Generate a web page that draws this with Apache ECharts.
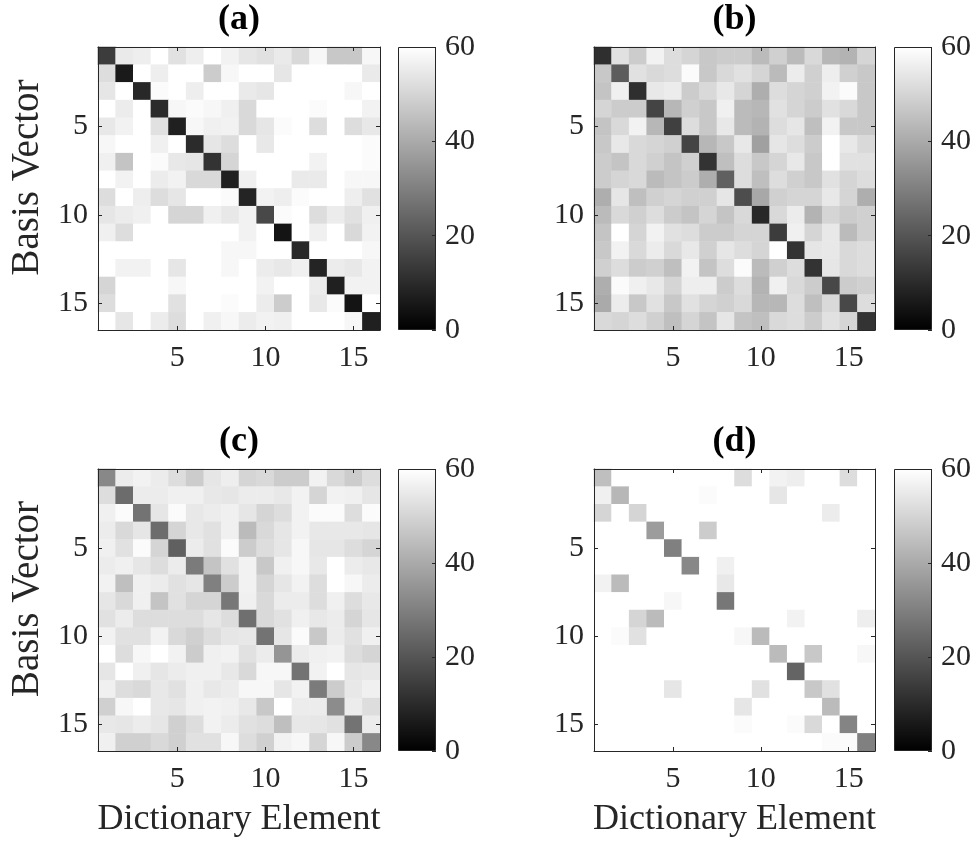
<!DOCTYPE html>
<html>
<head>
<meta charset="utf-8">
<title>Basis vector / dictionary element similarity</title>
<script src="https://cdn.jsdelivr.net/npm/echarts@6/dist/echarts.min.js"></script>
<style>
  html, body { margin: 0; padding: 0; background: #ffffff; }
  #chart { width: 979px; height: 845px; }
</style>
</head>
<body>
<div id="chart"></div>
<script>
// Axis categories (1..16) and the tick labels shown on them
const elementLabels = ['1','2','3','4','5','6','7','8','9','10','11','12','13','14','15','16'];
const tickLabels = ['5', '10', '15'];
const colorTicks = [0, 20, 40, 60];
const colorRange = [0, 60];
const panelTitles = ['(a)', '(b)', '(c)', '(d)'];

// Angle matrices: rows = basis vector, columns = dictionary element
const panelA = [
  [14,55,56,60,53,56,60,57,54,53,55,51,58,47,47,58],
  [52,6,60,56,60,60,48,58,60,60,54,60,60,60,60,55],
  [54,60,9.4,59,60,56,60,60,55,54,60,60,60,60,58,60],
  [60,55.5,60,10,58,59,58,56.5,51,60,60,60,59,60,60,57],
  [54.6,57,60,53,7.5,58,56.5,57,51,54,59,60,52,60,52,54.6],
  [58,60,60,56.5,60,10,54,52,60,54.6,60,60,60,60,60,59],
  [56.5,46,60,59,54.6,54,12,50,60,60,60,60,57,60,60,59],
  [60,57,60,55.5,57,51,51,7.5,56.5,60,60,55,55,60,58,58],
  [52,60,56,52,54,60,60,59,8.5,57,56,59,60,60,56,53],
  [54,55.5,56.5,60,50,50,56.5,54.6,57,17,59,60,52,55.5,53,56.5],
  [56.5,52,60,60,60,60,60,60,57,60,4.7,60,56.5,60,51,57],
  [60,60,60,60,60,60,60,58,58,60,60,9.4,60,60,60,58],
  [60,57,57,60,54,60,60,58,60,55.5,54.6,56.5,8.5,55.5,54.6,57],
  [50,60,60,60,58,60,60,60,60,57,60,60,55.5,7.5,57,57],
  [52,60,60,60,53,60,60,59,60,55.5,48,60,54.6,59,4.7,60],
  [60,54,60,55.5,52,60,56.5,58,55.5,57,56.5,60,60,60,58,7.5]
];

const panelB = [
  [11,53,48,57,52,50,47,48,48,44,49,44,51,43,42,50],
  [47,21.6,53,51,52,59,47,51,53,50,44,55.5,49,56,49,47],
  [46,56.5,11,54.6,55.5,48,51,54.6,50,41,52,50,49,57,59,47],
  [50,48,48,16,43,49,47,56.5,44,43,53,50,48,53,51,47],
  [46,51,57,43,15,52,47,54.6,44,42,52,54,45,57,47,47],
  [47,54.6,51,50,49,16,43,47,54.6,37.6,54,52,48,60,54.6,51],
  [48,46,51,49,46,49,12,45,52,47,50,54.6,47,60,53,53],
  [48,50,51,44,46,48,41,22.6,52,45,52,49,47,53,50,52],
  [41,54,45,49,50,49,49,54,18,39.5,49,50,50,54.6,50,41],
  [44,51,49,52,48,46,50,46,51,9.4,51,55.5,42,50,48,49],
  [46,60,50,57,53,52,48,48,50,50,14,56.5,50,54.6,44,49],
  [47,57,51,55.5,51,54.6,49,54,52,50,60,12,54,54.6,51,52],
  [49,52,48,49,45,57,46,52,59,44,49,52,12,54,51,52],
  [41,59,56.5,54.6,50,56,56,48,52,42,56.5,51,48,17,48,49],
  [40,55.5,47,53,47,53,50,49,51,43,43,52,45,51,17,52],
  [51,50,52,49,45,50,46,54,46,45,51,52,48,53,50,12]
];

const panelC = [
  [32,55.5,57,55.5,52,48,54,56,50,51,48,48,57,51,48,52],
  [52,25.4,55.5,55.5,56.5,56.5,54.6,54,55.5,55.5,54.6,57,50,57,56.5,54],
  [56.5,59,27,54,59,54.6,55.5,56.5,54,50,52,57,59,59,52,59],
  [55.5,51,54,25.4,50,54.6,53,56.5,44,51,54,57,54.6,54.6,54.6,54],
  [56.5,53,59,50,22.6,55.5,53,59,48,52,54,58,54,54,52,50],
  [55.5,56.5,54,52,55.5,29,46,53,57,47,56.5,58,54.6,60,55.5,54.6],
  [57,45,56.5,55.5,53,54,30,48,57,50,54,57,52,60,58,55.5],
  [54,51,56.5,46,53,50,50,28,56.5,51,55.5,55.5,52,56.5,52,54.6],
  [53,55.5,52,52,52,52,54,52,26,51,53,56.5,54.6,55.5,50,54],
  [57,53,53,57,51,49,52,54,54.6,27,54,59,47,55.5,53,56.5],
  [60,52,58,60,57,48,56.5,57,53,55.5,35,55.5,56.5,57,52,50],
  [54,60,56.5,54,55.5,56.5,56.5,54.6,51,58,58,27,57,60,54,54.6],
  [56.5,52,51,54.6,53,56.5,54.6,55.5,58,58,54,57,29,48,54.6,56.5],
  [49,58,60,54.6,54,56.5,57,56.5,54.6,47,60,55.5,55.5,33,55.5,52],
  [54.6,54,55.5,54,49,52,57,55.5,53,52,45,54.6,54,53,27,55.5],
  [56.5,49,49,51,49,53,53,58,52,49,57,58,50,58,48,32]
];

const panelD = [
  [45,60,60,60,60,60,60,60,52,60,57,56,60,60,52,60],
  [56.5,43,60,60,60,60,59,60,60,60,54,60,60,60,60,60],
  [50,60,50,60,60,60,60,60,60,60,60,60,60,55.5,60,60],
  [60,60,60,36.7,60,60,48,60,60,60,60,60,60,60,60,60],
  [60,60,60,60,30,60,60,60,60,60,60,60,60,60,60,60],
  [60,60,60,60,60,32,60,56.5,60,60,60,60,60,60,60,60],
  [57,44,60,60,60,60,60,54.6,60,60,60,60,60,60,60,60],
  [60,60,60,60,58,60,60,28,60,60,60,60,60,60,60,60],
  [60,60,50,44,60,60,60,60,60,60,60,57,60,60,60,56],
  [60,59,53,60,60,60,60,60,58,44,60,60,60,60,60,60],
  [60,60,60,60,60,60,60,60,60,60,44,60,47,60,60,58],
  [60,60,60,60,60,60,60,60,60,60,60,23.5,60,60,60,60],
  [60,60,60,60,54,60,60,60,60,53,60,60,47,53,60,60],
  [60,60,60,60,60,60,60,60,54,60,60,60,60,44,60,60],
  [60,60,60,60,60,60,60,60,59,60,60,59,51,60,31,60],
  [60,60,60,60,60,60,60,60,60,60,60,60,60,59,59,30]
];

const panels = [panelA, panelB, panelC, panelD];

// ---- layout ----
const FONT = '"Liberation Serif", "Times New Roman", serif';
const INK = '#262626';
const heatGrids = [
  { left: 98,  top: 47,  width: 282, height: 283 },
  { left: 594, top: 47,  width: 281, height: 283 },
  { left: 98,  top: 469, width: 282, height: 282 },
  { left: 594, top: 469, width: 281, height: 282 }
];
const barGrids = heatGrids.map(g => ({ left: g.left + 300, top: g.top, width: 38, height: g.height }));

const tickIdx = tickLabels.map(t => elementLabels.indexOf(t));
const onTick = (i) => tickIdx.indexOf(i) >= 0;

function catAxis(gridIndex, position, opts) {
  const isX = position === 'bottom' || position === 'top';
  return Object.assign({
    type: 'category',
    gridIndex: gridIndex,
    position: position,
    data: elementLabels,
    boundaryGap: true,
    inverse: !isX,
    z: 6,
    axisLine: { show: true, onZero: false, lineStyle: { color: INK, width: 1 } },
    axisTick: { show: true, inside: true, length: 4, alignWithLabel: true, interval: onTick,
                lineStyle: { color: INK, width: 1 } },
    axisLabel: { show: false },
    splitLine: { show: false },
    splitArea: { show: false }
  }, opts || {});
}

const xAxes = [], yAxes = [], series = [];
const grids = [];

heatGrids.forEach((g) => {
  grids.push(Object.assign({ containLabel: false }, g));
});
barGrids.forEach((g) => {
  grids.push(Object.assign({ containLabel: false }, g));
});

heatGrids.forEach((g, p) => {
  const isBottomRow = p >= 2;
  const labelStyle = { show: true, interval: onTick, fontFamily: FONT, fontSize: 30, color: INK };
  // bottom x axis with tick labels (and xlabel on lower row)
  xAxes.push(catAxis(p, 'bottom', {
    axisLabel: Object.assign({ margin: 13 }, labelStyle),
    name: isBottomRow ? 'Dictionary Element' : '',
    nameLocation: 'middle',
    nameGap: 51,
    nameTextStyle: { fontFamily: FONT, fontSize: 36, color: INK }
  }));
  // top x axis carries the panel title
  xAxes.push(catAxis(p, 'top', {
    name: panelTitles[p],
    nameLocation: 'middle',
    nameGap: 9,
    nameTextStyle: { fontFamily: FONT, fontSize: 36, fontWeight: 'bold', color: '#000' }
  }));
  yAxes.push(catAxis(p, 'left', {
    axisLabel: Object.assign({ margin: 10 }, labelStyle)
  }));
  yAxes.push(catAxis(p, 'right', {}));

  const data = [];
  panels[p].forEach((row, r) => {
    row.forEach((v, c) => data.push([c, r, v]));
  });
  series.push({
    type: 'heatmap',
    xAxisIndex: 2 * p,
    yAxisIndex: 2 * p,
    data: data,
    itemStyle: { borderWidth: 0 },
    emphasis: { disabled: true },
    progressive: 0,
    animation: false
  });
});

// colour bars
barGrids.forEach((g, k) => {
  const gi = heatGrids.length + k;
  xAxes.push({ type: 'category', gridIndex: gi, data: ['scale'], show: false, boundaryGap: true });
  yAxes.push({
    type: 'value', gridIndex: gi, position: 'right',
    min: colorRange[0], max: colorRange[1], interval: 20,
    z: 6,
    axisLine: { show: false },
    axisTick: { show: true, inside: true, length: 4, lineStyle: { color: INK } },
    axisLabel: { show: true, margin: 9, fontFamily: FONT, fontSize: 30, color: INK,
                 formatter: (v) => colorTicks.indexOf(v) >= 0 ? String(v) : '' },
    splitLine: { show: false }
  });
  series.push({
    type: 'bar',
    xAxisIndex: xAxes.length - 1,
    yAxisIndex: yAxes.length - 1,
    data: [colorRange[1]],
    barWidth: '100%',
    silent: true,
    animation: false,
    itemStyle: {
      borderColor: INK,
      borderWidth: 1,
      color: new echarts.graphic.LinearGradient(0, 0, 0, 1, [
        { offset: 0, color: '#ffffff' },
        { offset: 1, color: '#000000' }
      ])
    }
  });
});

const chart = echarts.init(document.getElementById('chart'), null, { renderer: 'canvas' });
chart.setOption({
  backgroundColor: '#ffffff',
  animation: false,
  grid: grids,
  xAxis: xAxes,
  yAxis: yAxes,
  visualMap: {
    type: 'continuous',
    show: false,
    min: colorRange[0],
    max: colorRange[1],
    seriesIndex: [0, 1, 2, 3],
    inRange: { color: ['#000000', '#ffffff'] }
  },
  // y-axis label for the left column of panels
  graphic: [0, 2].map(p => ({
    type: 'text',
    x: 28,
    y: heatGrids[p].top + heatGrids[p].height / 2 - 11,
    rotation: Math.PI / 2,
    style: {
      text: 'Basis Vector',
      font: '39px ' + FONT,
      fill: INK,
      align: 'center',
      verticalAlign: 'middle'
    }
  })),
  series: series
});
</script>
</body>
</html>
